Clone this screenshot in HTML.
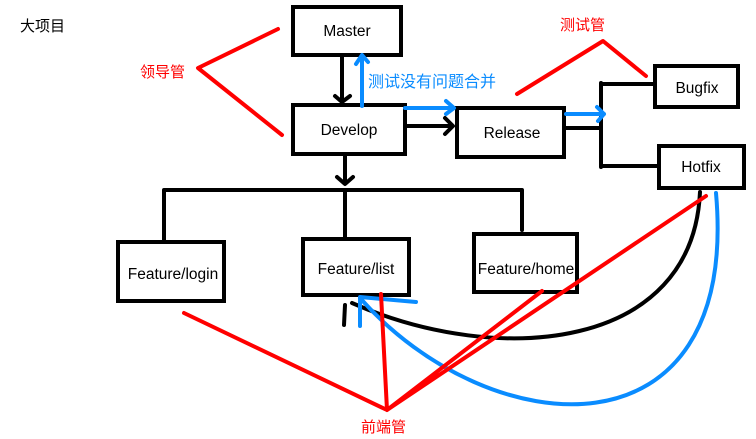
<!DOCTYPE html>
<html><head><meta charset="utf-8"><style>
html,body{margin:0;padding:0;background:#fff;width:756px;height:439px;overflow:hidden}
svg{display:block}
text{font-family:"Liberation Sans","Noto Sans CJK SC",sans-serif}
</style></head><body>
<svg width="756" height="439" viewBox="0 0 756 439" xmlns="http://www.w3.org/2000/svg">
<g fill="#fff" stroke="#000" stroke-width="4">
<rect x="293" y="7" width="108" height="48"/>
<rect x="293" y="105" width="112" height="49"/>
<rect x="457" y="108" width="107" height="49"/>
<rect x="655" y="66" width="83" height="41"/>
<rect x="659" y="146" width="85" height="42"/>
<rect x="118" y="242" width="106" height="59"/>
<rect x="303" y="239" width="106" height="56"/>
<rect x="474" y="234" width="103" height="58"/>
</g>
<g fill="none" stroke="#000" stroke-width="4" stroke-linecap="round" stroke-linejoin="round">
<path d="M342 57 V102 M335 96 L342 102 L350 96"/>
<path d="M345 156 V183 M337 177 L345 184 L353 177"/>
<path d="M164 240 V190 H522 V230 M345 190 V238"/>
<path d="M406 126 H452 M445 118 L453 126 L445 134"/>
<path d="M565 128 H601 M601 83 V167 M601 84 H654 M601 166 H658"/>
<path d="M700 192 C 693 350 500 368 352 303"/>
<path d="M345 305 L344 325"/>
</g>
<g fill="none" stroke="#0a8cff" stroke-width="4" stroke-linecap="round" stroke-linejoin="round">
<path d="M362 106 V57 M356 64 L362 55 L368 62"/>
<path d="M405 108 H452 M446 101 L454 108 L446 114"/>
<path d="M566 114 H604 M597 107 L604 114 L598 121"/>
<path d="M716 193 C 740 465 490 445 360 298"/>
<path d="M360 297 L360 326 M360 297 L416 302"/>
</g>
<g fill="none" stroke="#ff0000" stroke-width="4" stroke-linecap="round" stroke-linejoin="round">
<path d="M278 29 L198 68 L282 135"/>
<path d="M517 94 L603 41 L646 76"/>
<path d="M184 313 L387 410 L381 294 M387 410 L542 291 M387 410 L706 196"/>
</g>
<text x="20" y="31" font-size="15" fill="#000">大项目</text>
<text x="140" y="77" font-size="15" fill="#ff0000">领导管</text>
<text x="560" y="30" font-size="15" fill="#ff0000">测试管</text>
<text x="361" y="432" font-size="15" fill="#ff0000">前端管</text>
<text x="368" y="87" font-size="16" fill="#0a8cff">测试没有问题合并</text>
<g font-size="15.5" fill="#000" text-anchor="middle">
<text x="347" y="36">Master</text>
<text x="349" y="135">Develop</text>
<text x="512" y="138">Release</text>
<text x="697" y="93">Bugfix</text>
<text x="701" y="172">Hotfix</text>
<text x="173" y="279">Feature/login</text>
<text x="356" y="274">Feature/list</text>
<text x="526" y="274">Feature/home</text>
</g>
</svg>
</body></html>
